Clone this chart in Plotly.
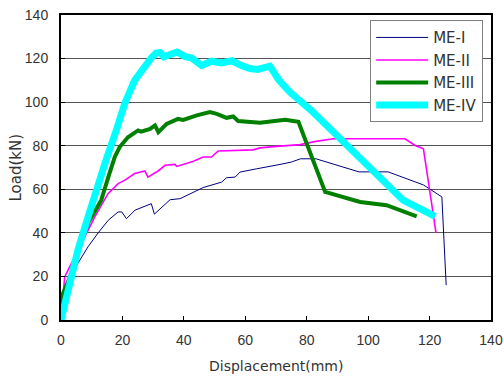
import plotly.graph_objects as go

# ME-I
x1 = [0, 1, 3, 5.5, 8.8, 12.1, 15.4, 18.6, 19.8, 21.3, 24.1, 29.4, 30.4, 33.9, 35.5, 38.8, 42, 46.3, 52.3, 53.9, 56.7, 58.3, 63.7, 67, 71.3, 75, 78, 83, 97, 106.5, 118, 124, 125.4]
y1 = [0, 8, 17, 26, 33.6, 40, 45.8, 49.6, 49.6, 46.5, 50.4, 53.4, 48.6, 53.4, 55.2, 55.7, 58, 60.8, 63.3, 65.3, 65.6, 67.9, 69.4, 70.2, 71.4, 72.5, 74, 74, 68, 68, 62, 56.5, 16]

# ME-II
x2 = [0, 1.2, 2.3, 6.6, 11, 15.3, 18.6, 20.7, 24, 27.3, 28.3, 31.6, 33.9, 37.1, 37.7, 43.1, 46.3, 49, 51.2, 62.6, 64.8, 70.2, 77.8, 83, 88.7, 112, 115.3, 118, 122.1]
y2 = [0, 19.8, 22.9, 35, 47.3, 58, 62.6, 64.1, 67.2, 68.4, 65.6, 68.4, 71, 71.4, 70.5, 72.9, 74.8, 74.8, 77.6, 78.1, 79, 79.7, 80.5, 82, 83.2, 83.2, 80.1, 78.6, 40]

# ME-III
x3 = [0, 0.2, 3, 6, 9, 13.1, 15.5, 17.5, 19.1, 21.8, 25.1, 26.1, 29, 30.6, 31.7, 34.4, 38.1, 39.8, 44.2, 48.5, 50.7, 53.9, 56.1, 57.7, 64.8, 71.3, 73, 77.3, 86, 97.4, 106, 115.8]
y3 = [0, 10.7, 20, 34, 45, 55, 66, 74.8, 79.4, 83.9, 87, 86.5, 87.7, 89.3, 86.2, 90, 92.3, 91.8, 93.9, 95.4, 94.6, 92.8, 93.4, 91.3, 90.5, 91.3, 91.9, 91, 58.8, 54.2, 52.7, 47.6]

# ME-IV
x4 = [0, 2.8, 5.5, 8.8, 12, 14.8, 18, 20.7, 24, 27.3, 29.5, 31, 32.3, 33.5, 35.9, 37.8, 40.4, 42.5, 45.8, 49, 52.3, 55.6, 58.8, 61.5, 64, 68, 71, 74.6, 81.6, 111.4, 121.8]
y4 = [0, 16.8, 32, 47.3, 62.6, 74, 87, 99.2, 110, 116.8, 120.5, 122.5, 122.8, 120.8, 122.5, 123, 120.9, 120.3, 116.8, 118.8, 118, 119, 116.8, 115.4, 115, 116.5, 110, 104.5, 96, 55, 47.6]

names = ["ME-I", "ME-II", "ME-III", "ME-IV"]
colors = ["#000080", "#FF00FF", "#008000", "#00FFFF"]
widths = [1, 1.6, 4, 7]

x_ticks = [0, 20, 40, 60, 80, 100, 120, 140]
y_ticks = [0, 20, 40, 60, 80, 100, 120, 140]

TICKFONT = "Liberation Sans, Arial, sans-serif"
TITLEFONT = "DejaVu Sans, sans-serif"
TXT = "#333"

fig = go.Figure()
for xs, ys, n, c, w in zip([x1, x2, x3, x4], [y1, y2, y3, y4], names, colors, widths):
    fig.add_trace(go.Scatter(x=xs, y=ys, mode="lines", name=n, legendgroup=n,
                             line=dict(color=c, width=w)))

fig.update_layout(
    width=504, height=376,
    margin=dict(l=61, r=13, t=15, b=56),
    paper_bgcolor="white", plot_bgcolor="white",
    font=dict(family=TICKFONT, size=14, color=TXT),
    legend=dict(x=0.719, y=0.983, xanchor="left", yanchor="top",
                bordercolor="#808080", borderwidth=1, bgcolor="white",
                font=dict(family=TITLEFONT, size=15, color=TXT),
                tracegroupgap=3, itemwidth=52, traceorder="normal"),
    showlegend=True,
)
fig.add_annotation(text="Displacement(mm)", x=0.5, y=0, xref="paper", yref="paper",
                   xanchor="center", yanchor="middle", yshift=-46, showarrow=False,
                   font=dict(family=TITLEFONT, size=14, color=TXT))
fig.add_annotation(text="Load(kN)", x=0, y=0.5, xref="paper", yref="paper",
                   xanchor="center", yanchor="middle", xshift=-46, textangle=-90,
                   showarrow=False, font=dict(family=TITLEFONT, size=15, color=TXT))
fig.update_xaxes(range=[0, 140], tickvals=x_ticks, showgrid=False, automargin=False,
                 showline=True, linecolor="black", linewidth=2, mirror=True,
                 ticks="inside", ticklen=4, tickcolor="black", zeroline=False,
                 tickfont=dict(family=TICKFONT, size=14, color=TXT),
                 ticklabelstandoff=6)
fig.update_yaxes(range=[0, 140], tickvals=y_ticks, showgrid=True, automargin=False,
                 gridcolor="#555", gridwidth=1,
                 showline=True, linecolor="black", linewidth=2, mirror=True,
                 ticks="inside", ticklen=4, tickcolor="black", zeroline=False,
                 tickfont=dict(family=TICKFONT, size=14, color=TXT),
                 ticklabelstandoff=8)

fig.write_html("out.html")
